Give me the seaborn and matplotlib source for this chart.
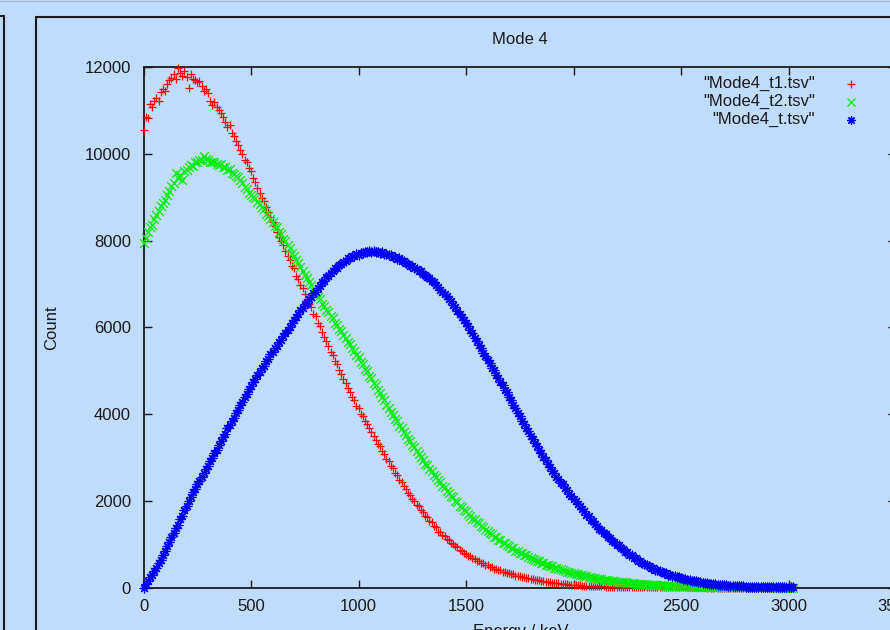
import matplotlib
matplotlib.use("Agg")
import matplotlib.pyplot as plt
from matplotlib.lines import Line2D
import numpy as np
import pandas as pd
import seaborn as sns

# ---------------- data ----------------
energy_step = 10  # keV between samples
title = "Mode 4"
x_label = "Energy / keV"
y_label = "Count"
series_names = ['"Mode4_t1.tsv"', '"Mode4_t2.tsv"', '"Mode4_t.tsv"']
x_ticks = [0, 500, 1000, 1500, 2000, 2500, 3000, 3500]
y_ticks = [0, 2000, 4000, 6000, 8000, 10000, 12000]

counts_t1 = [
    10550, 10850, 10820, 11150, 11080, 11220, 11300, 11230, 11420, 11500,
    11460, 11620, 11700, 11760, 11850, 11720, 11980, 11860, 11800, 11910,
    11780, 11520, 11850, 11740, 11700, 11660, 11690, 11560, 11450, 11490,
    11410, 11220, 11140, 11210, 11080, 11010, 10940, 10860, 10740, 10620,
    10660, 10490, 10410, 10310, 10210, 10090, 10010, 9860, 9810, 9670,
    9610, 9440, 9360, 9210, 9110, 8990, 8910, 8770, 8660, 8540,
    8430, 8340, 8210, 8090, 7990, 7890, 7760, 7640, 7560, 7420,
    7360, 7190, 7110, 6970, 6910, 6770, 6660, 6540, 6460, 6310,
    6260, 6090, 6030, 5890, 5790, 5690, 5560, 5440, 5360, 5220,
    5160, 5020, 4930, 4810, 4710, 4610, 4510, 4390, 4330, 4190,
    4140, 4010, 3960, 3840, 3770, 3670, 3590, 3490, 3410, 3310,
    3260, 3140, 3090, 2970, 2910, 2810, 2750, 2650, 2590, 2490,
    2430, 2340, 2280, 2190, 2130, 2050, 2000, 1910, 1870, 1780,
    1740, 1660, 1620, 1540, 1500, 1430, 1390, 1270, 1290, 1210,
    1190, 1120, 1100, 1030, 1010, 950, 930, 870, 850, 790,
    780, 730, 720, 670, 660, 615, 610, 565, 560, 515,
    510, 475, 470, 435, 430, 395, 395, 362, 360, 330,
    330, 300, 300, 275, 275, 262, 240, 238, 215, 215,
    200, 188, 182, 170, 165, 150, 148, 138, 130, 122,
    112, 108, 98, 95, 88, 82, 78, 72, 68, 64,
    60, 56, 52, 50, 46, 43, 40, 38, 35, 33,
    32, 29, 28, 26, 24, 22, 21, 19, 18, 17,
    16, 15, 14, 13, 12, 11, 10, 10, 9, 9,
    8, 7, 7, 6, 6, 5, 5, 5, 4, 4,
    4, 3, 3, 3, 3, 2, 2, 2, 2, 2,
    2, 1, 1, 1, 1, 1, 1, 1, 1, 1,
    1, 1, 0, 1, 0, 0, 1, 0, 0, 0,
    0, 0, 0, 0, 0, 0, 0, 0, 0, 0,
    0, 0, 0, 0, 0, 0, 0, 0, 0, 0,
    0, 0, 0, 0, 0, 0, 0, 0, 0, 0,
    0, 0, 0,
]

counts_t2 = [
    7950, 8060, 8190, 8310, 8370, 8510, 8590, 8690, 8790, 8880,
    8940, 9060, 9140, 9260, 9340, 9560, 9440, 9510, 9410, 9600,
    9640, 9710, 9750, 9720, 9810, 9820, 9860, 9870, 9950, 9890,
    9860, 9810, 9810, 9820, 9780, 9740, 9780, 9690, 9690, 9630,
    9650, 9570, 9550, 9490, 9470, 9390, 9330, 9240, 9190, 9110,
    9060, 9010, 8990, 8890, 8850, 8770, 8730, 8620, 8570, 8490,
    8430, 8340, 8310, 8210, 8160, 8050, 8000, 7890, 7830, 7710,
    7650, 7550, 7490, 7390, 7310, 7210, 7150, 7040, 6980, 6870,
    6810, 6710, 6650, 6550, 6500, 6410, 6350, 6260, 6210, 6110,
    6060, 5960, 5910, 5820, 5760, 5670, 5610, 5520, 5460, 5370,
    5310, 5210, 5150, 5050, 4990, 4890, 4830, 4720, 4660, 4550,
    4490, 4390, 4320, 4220, 4150, 4050, 3990, 3890, 3830, 3730,
    3670, 3580, 3520, 3430, 3370, 3280, 3230, 3140, 3090, 3000,
    2950, 2860, 2820, 2730, 2690, 2600, 2560, 2480, 2430, 2350,
    2310, 2230, 2190, 2110, 2080, 2000, 1970, 1890, 1860, 1790,
    1760, 1690, 1660, 1590, 1570, 1500, 1480, 1410, 1390, 1330,
    1310, 1250, 1230, 1170, 1160, 1100, 1090, 1030, 1020, 970,
    960, 910, 900, 850, 840, 800, 790, 750, 740, 700,
    690, 650, 645, 610, 605, 570, 565, 530, 530, 495,
    490, 460, 455, 425, 420, 395, 390, 365, 360, 335,
    330, 310, 305, 285, 280, 262, 258, 240, 236, 220,
    215, 202, 198, 185, 182, 170, 166, 155, 152, 142,
    138, 130, 127, 118, 116, 108, 105, 98, 96, 90,
    87, 82, 79, 74, 72, 67, 65, 61, 59, 55,
    52, 49, 47, 44, 43, 40, 38, 36, 35, 33,
    30, 28, 27, 25, 24, 22, 21, 20, 19, 17,
    15, 14, 13, 12, 12, 11, 10, 9, 9, 8,
    7, 7, 6, 6, 5, 5, 4, 4, 4, 3,
    3, 3, 2, 2, 2, 2, 2, 1, 1, 1,
    1, 1, 1, 1, 1, 0, 1, 0, 0, 0,
    0, 0, 0,
]

counts_t = [
    0, 70, 140, 240, 290, 390, 460, 570, 640, 760,
    840, 960, 1040, 1160, 1250, 1370, 1450, 1580, 1660, 1790,
    1880, 2000, 2080, 2200, 2270, 2380, 2450, 2560, 2630, 2730,
    2800, 2910, 2990, 3100, 3180, 3290, 3370, 3480, 3550, 3670,
    3740, 3850, 3920, 4030, 4100, 4210, 4280, 4390, 4460, 4570,
    4640, 4740, 4800, 4900, 4960, 5060, 5120, 5220, 5280, 5380,
    5440, 5530, 5580, 5670, 5720, 5810, 5860, 5950, 6000, 6090,
    6160, 6250, 6300, 6390, 6440, 6530, 6570, 6660, 6700, 6790,
    6820, 6910, 6950, 7040, 7080, 7160, 7190, 7260, 7290, 7360,
    7380, 7440, 7460, 7520, 7530, 7590, 7590, 7640, 7640, 7690,
    7680, 7720, 7710, 7750, 7730, 7770, 7740, 7770, 7730, 7750,
    7710, 7730, 7690, 7700, 7660, 7670, 7620, 7630, 7580, 7590,
    7540, 7530, 7480, 7470, 7420, 7410, 7360, 7350, 7300, 7290,
    7240, 7220, 7160, 7130, 7070, 7040, 6970, 6930, 6860, 6820,
    6770, 6730, 6650, 6600, 6510, 6460, 6370, 6320, 6230, 6180,
    6090, 6030, 5930, 5860, 5760, 5690, 5590, 5520, 5420, 5350,
    5240, 5180, 5070, 5010, 4900, 4840, 4730, 4670, 4560, 4500,
    4390, 4320, 4210, 4140, 4030, 3960, 3850, 3780, 3670, 3600,
    3490, 3430, 3330, 3270, 3170, 3110, 3010, 2950, 2850, 2790,
    2690, 2640, 2550, 2510, 2420, 2380, 2290, 2250, 2160, 2120,
    2040, 2000, 1920, 1880, 1800, 1760, 1680, 1640, 1560, 1530,
    1460, 1430, 1360, 1330, 1260, 1230, 1170, 1140, 1080, 1050,
    990, 970, 910, 890, 830, 810, 760, 740, 690, 670,
    620, 610, 560, 550, 510, 500, 460, 450, 410, 405,
    370, 365, 330, 328, 295, 292, 265, 262, 235, 232,
    210, 205, 185, 182, 162, 160, 142, 140, 124, 122,
    108, 104, 95, 90, 82, 78, 71, 67, 61, 58,
    52, 50, 45, 42, 38, 36, 32, 30, 27, 25,
    22, 21, 19, 18, 16, 15, 13, 12, 11, 10,
    9, 8, 8, 7, 6, 6, 5, 5, 4, 4,
    3, 3, 2,
]

energy = [i * energy_step for i in range(len(counts_t))]

# ---------------- style ----------------
W, H = 890, 630
BG = "#c0dcfc"
FONT = ["Liberation Sans", "DejaVu Sans"]
FS = 12

sns.set_style("ticks")
plt.rcParams["font.family"] = FONT
plt.rcParams["font.size"] = FS

fig = plt.figure(figsize=(W / 100, H / 100), dpi=100, facecolor=BG)

def fx(px):
    return px / W

def fy(py):
    return 1 - py / H

# axes box in pixel coordinates (right spine lies just outside the crop)
ax_l, ax_r, ax_t, ax_b = 143.5, 896.0, 67.3, 587.5
ax = fig.add_axes([fx(ax_l), fy(ax_b), (ax_r - ax_l) / W, (ax_b - ax_t) / H])
ax.set_facecolor(BG)

df = pd.DataFrame({"energy": energy, "t1": counts_t1, "t2": counts_t2, "t": counts_t})

marker_specs = [
    ("t1", "+", "#ff0000"),
    ("t2", "x", "#00ee00"),
    ("t", (8, 2, 0), "#0000ff"),
]
for col, mk, colr in marker_specs:
    sns.scatterplot(data=df, x="energy", y=col, marker=mk, color=colr,
                    s=40, linewidth=0.9, ax=ax, legend=False, zorder=3,
                    clip_on=False)

ax.set_xlim(0, 3500)
ax.set_ylim(0, 12000)
ax.set_xticks(x_ticks)
ax.set_yticks(y_ticks)
ax.set_xticklabels([str(v) for v in x_ticks])
ax.set_yticklabels([str(v) for v in y_ticks])

for sp in ax.spines.values():
    sp.set_color("#1a1a1a")
    sp.set_linewidth(1.3)
    sp.set_visible(True)
ax.tick_params(axis="both", direction="in", length=6, width=1.0,
               color="#1a1a1a", labelsize=FS, labelcolor="#1a1a1a",
               top=True, right=True)
ax.tick_params(axis="x", pad=8)
ax.tick_params(axis="y", pad=9)

ax.set_title(title, fontsize=FS, color="#1a1a1a", pad=17)
ax.set_xlabel(x_label, fontsize=FS, color="#1a1a1a")
ax.set_ylabel(y_label, fontsize=FS, color="#1a1a1a")
ax.xaxis.set_label_coords((521 - ax_l) / (ax_r - ax_l), (ax_b - 624) / (ax_b - ax_t))
ax.xaxis.label.set_va("top")
ax.yaxis.set_label_coords((52 - ax_l) / (ax_r - ax_l), 0.5)
ax.yaxis.label.set_va("center")

# legend (gnuplot style: right-justified text, sample to the right)
leg_rows = [83.5, 101.5, 119.5]
for (col, mk, colr), name, yy in zip(marker_specs, series_names, leg_rows):
    fig.text(fx(815), fy(yy), name, ha="right", va="center",
             fontsize=FS, color="#1a1a1a")
    fig.add_artist(Line2D([fx(851)], [fy(yy)], marker=mk, color=colr,
                          markersize=6, markeredgewidth=0.9, linestyle="none",
                          transform=fig.transFigure))

# surrounding panel frames (from the screenshot)
frame_kw = dict(color="#1a1a1a", linewidth=1.5, transform=fig.transFigure)
fig.add_artist(Line2D([fx(0), fx(3.5)], [fy(16), fy(16)], **frame_kw))
fig.add_artist(Line2D([fx(3.5), fx(3.5)], [fy(16), fy(H + 2)], **frame_kw))
fig.add_artist(Line2D([fx(36), fx(36)], [fy(H + 2), fy(16.5)], **frame_kw))
fig.add_artist(Line2D([fx(36), fx(W + 2)], [fy(16.5), fy(16.5)], **frame_kw))
fig.add_artist(Line2D([0, 1], [fy(0.5), fy(0.5)], color="#a9bcd6",
                      linewidth=1.0, transform=fig.transFigure))

fig.savefig("out.png", dpi=100, facecolor=BG)
